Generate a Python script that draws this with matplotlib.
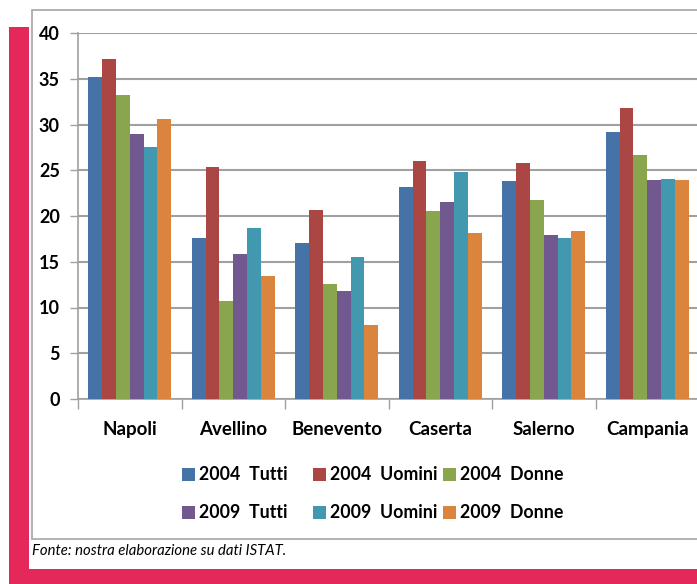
import numpy as np
import matplotlib
matplotlib.use('Agg')
import matplotlib.pyplot as plt
from matplotlib.patches import Rectangle

# province / region categories
categories = ['Napoli', 'Avellino', 'Benevento', 'Caserta', 'Salerno', 'Campania']

# values
tutti_2004 = [35.2, 17.6, 17.0, 23.2, 23.8, 29.2]
uomini_2004 = [37.2, 25.4, 20.7, 26.0, 25.8, 31.8]
donne_2004 = [33.2, 10.7, 12.6, 20.5, 21.7, 26.7]
tutti_2009 = [29.0, 15.9, 11.8, 21.5, 17.9, 23.9]
uomini_2009 = [27.5, 18.7, 15.5, 24.8, 17.6, 24.0]
donne_2009 = [30.6, 13.4, 8.1, 18.1, 18.4, 23.9]

series_labels = ['2004  Tutti', '2004  Uomini', '2004  Donne',
                 '2009  Tutti', '2009  Uomini', '2009  Donne']
series_colors = ['#4572A7', '#AA4643', '#89A54E', '#71588F', '#4198AF', '#DB843D']

y_ticks = [0, 5, 10, 15, 20, 25, 30, 35, 40]

W, H = 697, 584
plt.rcParams['font.family'] = ['Lato', 'DejaVu Sans']

fig = plt.figure(figsize=(W / 100, H / 100), dpi=100)

# pink decoration and chart frame
pink = '#E5285A'
fig.patches.append(Rectangle((9 / W, 0), 20 / W, 1 - 27 / H, transform=fig.transFigure,
                             facecolor=pink, edgecolor='none', zorder=0))
fig.patches.append(Rectangle((9 / W, 0), 1, 15 / H, transform=fig.transFigure,
                             facecolor=pink, edgecolor='none', zorder=0))
fig.patches.append(Rectangle((32 / W, 1 - 539 / H), 1, (539 - 10) / H, transform=fig.transFigure,
                             facecolor='white', edgecolor='#A6A6A6', lw=1.2, zorder=0))

ax = fig.add_axes([78 / W, 1 - 399 / H, 621 / W, 366 / H])
ax.set_facecolor('none')
ax.set_zorder(2)

all_series = [tutti_2004, uomini_2004, donne_2004, tutti_2009, uomini_2009, donne_2009]
x = np.arange(len(categories))
bw = 0.8 / 6
for i, (vals, col) in enumerate(zip(all_series, series_colors)):
    ax.bar(x - 0.4 + bw * (i + 0.5), vals, width=bw, color=col, zorder=3)

ax.set_xlim(-0.5, len(categories) - 0.5)
ax.set_ylim(0, 40)
ax.set_yticks(y_ticks)
ax.set_yticklabels([str(v) for v in y_ticks], fontsize=13, fontweight='bold')
ax.yaxis.grid(True, color='#A0A0A0', lw=1.5, zorder=0)
ax.tick_params(axis='y', length=6, width=1, color='#A0A0A0', pad=7)

ax.set_xticks(x)
ax.set_xticklabels(categories, fontsize=13.5, fontweight='bold')
ax.set_xticks(np.arange(-0.5, len(categories)), minor=True)
ax.tick_params(axis='x', which='major', length=0, pad=16)
ax.tick_params(axis='x', which='minor', length=7, width=1, color='#A0A0A0')

for s in ['top', 'right']:
    ax.spines[s].set_visible(False)
for s in ['left', 'bottom']:
    ax.spines[s].set_color('#A0A0A0')
    ax.spines[s].set_linewidth(1.2)

# legend laid out like Excel: 3 equal-width columns, 2 rows
for k, (lab, col) in enumerate(zip(series_labels, series_colors)):
    r, c = divmod(k, 3)
    lx = 182 + 130.5 * c
    ly = 474 + 38 * r
    fig.patches.append(Rectangle((lx / W, 1 - (ly + 6.5) / H), 13 / W, 13 / H,
                                 transform=fig.transFigure, facecolor=col,
                                 edgecolor='none', zorder=3))
    fig.text((lx + 17) / W, 1 - ly / H, lab, fontsize=12.8, fontweight='bold',
             va='center', ha='left')

fig.text(32 / W, 1 - 551 / H, 'Fonte: nostra elaborazione su dati ISTAT.',
         fontsize=10.7, style='italic', va='center', ha='left')

fig.savefig('out.png', dpi=100)
